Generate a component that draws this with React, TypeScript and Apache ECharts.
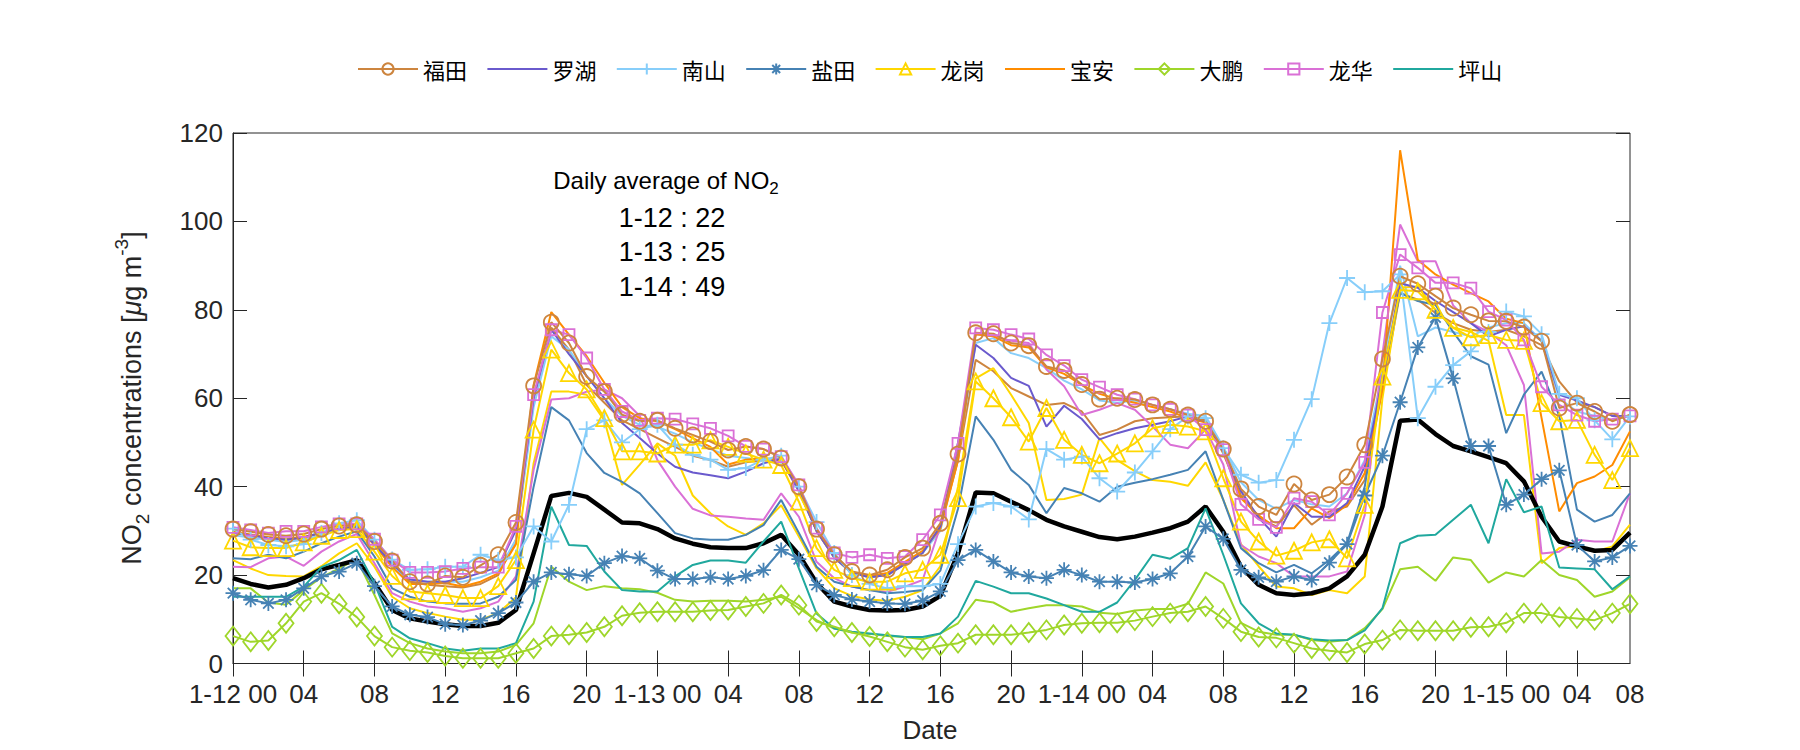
import React, { useEffect, useRef } from "react";
import * as echarts from "echarts";

// ---------- axis categories & tick labels ----------
const days = ["1-12", "1-13", "1-14", "1-15"];
const times: string[] = Array.from(
  { length: 80 },
  (_, h) => `${days[Math.floor(h / 24)]} ${String(h % 24).padStart(2, "0")}:00`
);
const xTickIdx = [0, 4, 8, 12, 16, 20, 24, 28, 32, 36, 40, 44, 48, 52, 56, 60, 64, 68, 72, 76, 79];
const xTickLabels = [
  "1-12 00", "04", "08", "12", "16", "20",
  "1-13 00", "04", "08", "12", "16", "20",
  "1-14 00", "04", "08", "12", "16", "20",
  "1-15 00", "04", "08",
];
const yMin = 0;
const yMax = 120;
const yStep = 20;

// ---------- legend names ----------
const districts = ["福田", "罗湖", "南山", "盐田", "龙岗", "宝安", "大鹏", "龙华", "坪山"];

// ---------- series values (µg m-3), hourly 1-12 00 .. 1-15 07 ----------
const futian = [
  30.4, 29.8, 29.2, 28.9, 29.3, 30.4, 31.1, 31.4, 27.6, 23.2,
  18.5, 18.0, 19.8, 19.5, 22.2, 24.6, 31.9, 62.8, 77.2, 72.5,
  64.9, 61.5, 56.3, 54.8, 55.0, 53.2, 51.7, 50.2, 48.3, 49.1,
  48.5, 46.5, 40.0, 30.4, 24.6, 20.8, 20.0, 21.2, 24.0, 26.1,
  31.7, 47.4, 74.8, 74.6, 72.5, 71.9, 67.2, 66.3, 63.1, 59.8,
  60.0, 59.7, 58.5, 57.5, 56.2, 54.8, 48.5, 39.5, 35.5, 33.6,
  40.6, 37.0, 38.2, 42.2, 49.5, 68.9, 87.6, 85.9, 83.1, 80.4,
  78.9, 77.5, 77.4, 76.1, 72.9, 57.8, 58.9, 57.0, 54.8, 56.3,
];
const luohu = [
  29.6, 29.0, 28.4, 28.0, 28.5, 29.6, 30.5, 31.0, 27.0, 22.5,
  19.0, 18.5, 18.5, 19.3, 20.5, 21.8, 30.2, 60.0, 75.5, 70.0,
  65.0, 60.0, 54.4, 51.0, 47.5, 44.5, 43.2, 42.6, 41.9, 43.4,
  45.3, 46.3, 39.0, 30.0, 24.0, 20.5, 19.5, 20.0, 22.5, 25.0,
  31.0, 50.0, 72.1, 69.1, 64.6, 62.8, 53.6, 58.3, 55.3, 50.7,
  52.1, 53.2, 54.0, 54.8, 55.9, 54.8, 48.0, 39.0, 33.0, 28.7,
  36.3, 33.2, 33.2, 36.3, 44.6, 64.0, 86.0, 85.0, 82.0, 79.5,
  77.0, 74.0, 75.5, 76.3, 73.0, 60.8, 59.5, 58.0, 56.0, 56.0,
];
const nanshan = [
  30.5, 28.0, 26.8, 26.5, 27.0, 29.5, 31.7, 32.4, 28.0, 23.5,
  21.2, 21.3, 21.9, 21.9, 24.6, 23.4, 24.0, 31.0, 27.6, 35.9,
  53.0, 55.0, 50.0, 53.0, 54.0, 49.5, 47.2, 46.1, 43.8, 44.2,
  46.1, 47.0, 40.0, 32.0, 25.0, 20.0, 18.0, 17.0, 17.5, 17.5,
  18.0, 27.0, 35.5, 36.3, 35.5, 32.6, 48.5, 46.1, 46.8, 41.9,
  38.9, 43.2, 48.0, 53.0, 55.9, 55.5, 48.7, 42.7, 40.9, 41.5,
  50.6, 59.8, 77.0, 87.2, 84.0, 84.2, 88.0, 55.5, 62.6, 67.5,
  70.6, 75.0, 79.6, 78.5, 74.5, 61.0, 60.0, 55.0, 50.7, 55.9,
];
const yantian = [
  15.9, 14.4, 13.6, 14.4, 17.0, 19.7, 20.8, 22.7, 17.5, 12.9,
  11.0, 10.5, 8.9, 8.7, 9.7, 11.4, 13.8, 18.5, 20.6, 20.2,
  19.8, 22.7, 24.3, 23.8, 21.0, 19.1, 19.1, 19.5, 19.1, 19.8,
  21.1, 25.7, 23.6, 17.8, 15.5, 14.5, 14.0, 13.6, 13.5, 14.2,
  16.3, 23.4, 25.7, 23.1, 20.6, 19.7, 19.3, 21.2, 20.0, 18.5,
  18.5, 18.3, 19.1, 20.4, 24.2, 31.0, 28.2, 21.2, 19.5, 18.5,
  19.7, 18.9, 22.8, 27.0, 38.0, 47.0, 59.1, 71.5, 78.3, 64.5,
  49.2, 49.2, 35.9, 38.2, 41.7, 43.7, 26.8, 23.1, 24.0, 26.6,
];
const longgang = [
  27.8, 26.3, 26.1, 26.1, 27.4, 28.9, 30.2, 30.4, 25.3, 19.8,
  16.3, 15.9, 15.5, 14.8, 14.8, 17.5, 23.4, 52.9, 71.0, 65.7,
  62.0, 55.5, 48.0, 48.0, 47.5, 49.5, 49.5, 50.5, 49.0, 47.5,
  46.1, 44.9, 36.6, 26.1, 21.2, 19.3, 18.5, 18.5, 20.4, 21.2,
  24.6, 37.4, 63.8, 60.0, 55.7, 50.2, 57.8, 50.6, 47.2, 45.3,
  47.5, 49.8, 53.2, 54.0, 53.6, 52.5, 41.9, 32.1, 27.6, 24.4,
  25.5, 27.4, 28.1, 23.8, 35.9, 64.9, 84.5, 84.2, 80.0, 75.9,
  73.8, 74.3, 73.2, 73.0, 58.9, 54.8, 55.1, 47.2, 41.5, 48.7,
];
const baoan = [
  29.8, 29.2, 28.6, 28.2, 28.6, 29.6, 30.6, 31.0, 26.8, 21.8,
  18.0, 18.0, 18.2, 17.4, 18.5, 20.4, 27.0, 63.0, 79.5, 74.4,
  69.5, 63.5, 58.0, 55.5, 54.8, 53.0, 51.0, 49.0, 45.0, 46.1,
  46.5, 46.0, 39.5, 30.0, 24.0, 20.5, 19.8, 20.5, 23.0, 25.5,
  30.5, 46.0, 74.5, 74.0, 72.0, 71.5, 67.0, 65.5, 63.0, 61.0,
  59.8, 59.0, 58.0, 57.0, 55.5, 54.5, 48.0, 37.4, 33.5, 30.6,
  30.6, 35.1, 32.9, 35.9, 43.1, 62.0, 116.1, 91.3, 88.0, 85.7,
  83.8, 81.9, 78.0, 77.0, 55.5, 34.4, 40.8, 42.3, 44.9, 52.5,
];
const dapeng = [
  6.2, 4.9, 5.2, 9.1, 14.0, 15.9, 13.5, 10.5, 6.2, 3.7,
  2.9, 2.5, 1.7, 1.2, 1.2, 1.2, 2.3, 3.4, 6.2, 6.5,
  7.0, 8.3, 10.8, 11.5, 11.7, 11.7, 11.7, 12.0, 12.1, 12.9,
  13.6, 15.5, 13.2, 9.5, 8.3, 7.0, 6.1, 4.9, 3.7, 3.1,
  4.0, 4.6, 6.5, 6.5, 6.5, 7.0, 7.6, 8.7, 9.1, 9.2,
  9.2, 9.7, 10.6, 11.4, 11.7, 12.9, 10.2, 7.2, 6.0, 5.8,
  4.6, 3.4, 2.9, 2.5, 4.4, 5.3, 7.6, 7.4, 7.4, 7.4,
  8.2, 8.3, 9.2, 11.4, 11.4, 10.5, 10.2, 9.8, 11.4, 13.5,
];
const longhua = [
  30.8, 30.2, 29.5, 29.9, 29.9, 30.9, 31.6, 31.6, 28.1, 23.4,
  20.6, 20.6, 20.8, 21.5, 21.8, 21.8, 31.0, 60.8, 75.5, 74.4,
  69.1, 62.0, 57.0, 55.0, 55.5, 55.3, 54.2, 53.2, 51.5, 49.1,
  48.5, 46.8, 40.4, 30.6, 25.0, 24.0, 24.6, 23.8, 24.2, 28.0,
  33.6, 49.8, 75.9, 75.5, 74.4, 73.4, 69.8, 67.4, 64.2, 62.5,
  60.8, 59.8, 58.5, 57.5, 56.2, 52.9, 48.4, 36.0, 32.6, 30.8,
  37.4, 36.6, 33.6, 38.5, 45.5, 79.4, 92.5, 89.5, 86.1, 86.1,
  84.9, 79.6, 77.7, 73.2, 62.6, 58.5, 56.2, 54.8, 55.3, 56.0,
];
const pingshan = [
  15.1, 15.1, 15.1, 15.1, 17.4, 21.8, 23.4, 25.7, 18.1, 8.3,
  5.7, 4.6, 3.4, 2.9, 3.4, 3.4, 4.6, 14.0, 35.5, 26.8,
  26.6, 20.8, 16.6, 16.3, 16.3, 19.7, 22.3, 23.3, 23.3, 22.8,
  27.6, 32.1, 21.5, 11.3, 7.9, 7.2, 6.8, 6.4, 6.0, 6.0,
  6.8, 10.6, 18.7, 17.4, 15.9, 15.9, 14.7, 13.2, 11.7, 11.7,
  13.8, 18.9, 24.6, 23.7, 26.1, 35.1, 24.6, 13.6, 9.1, 6.8,
  6.5, 5.5, 5.2, 5.3, 7.5, 12.5, 27.2, 28.9, 29.1, 32.5,
  35.9, 27.2, 41.7, 34.2, 35.5, 21.7, 21.5, 21.3, 16.8, 19.7,
];
// second stations (no markers, not in legend)
const futian2 = [
  29.5, 29.0, 28.5, 28.0, 28.5, 29.5, 30.5, 30.8, 27.0, 22.5,
  18.5, 17.8, 17.5, 17.2, 18.0, 20.0, 28.0, 60.0, 76.0, 71.0,
  63.0, 59.0, 55.0, 53.0, 51.0, 49.0, 47.0, 46.0, 44.5, 45.5,
  46.0, 46.0, 39.0, 30.0, 24.0, 20.5, 19.5, 20.0, 22.5, 25.0,
  31.0, 46.0, 68.7, 66.1, 62.3, 60.4, 58.5, 58.9, 57.0, 51.7,
  52.9, 54.8, 55.5, 55.7, 55.9, 55.1, 47.5, 38.0, 33.0, 31.0,
  35.8, 31.4, 34.4, 35.5, 41.5, 62.0, 83.8, 82.3, 79.3, 77.0,
  75.5, 75.0, 75.5, 74.0, 72.0, 63.8, 59.0, 58.0, 56.0, 56.0,
];
const nanshan2 = [
  29.0, 28.5, 28.0, 27.5, 28.0, 29.0, 30.5, 31.0, 27.0, 22.0,
  19.0, 18.5, 18.5, 18.5, 19.5, 21.0, 28.0, 58.0, 74.0, 71.0,
  65.0, 60.0, 56.0, 54.0, 53.5, 52.0, 50.0, 48.5, 47.0, 46.5,
  46.0, 46.5, 39.5, 30.0, 24.0, 20.5, 19.5, 20.0, 22.5, 25.0,
  30.0, 47.0, 72.5, 73.6, 70.2, 69.1, 66.8, 64.0, 62.0, 59.5,
  59.0, 59.5, 58.5, 57.5, 56.5, 56.0, 49.0, 41.0, 37.0, 35.0,
  37.0, 36.0, 35.5, 38.5, 46.0, 66.0, 90.0, 74.0, 76.0, 75.0,
  74.0, 76.0, 77.0, 77.0, 73.0, 60.0, 57.0, 56.0, 55.0, 56.0,
];
const longgang2 = [
  23.4, 21.5, 20.0, 19.8, 19.7, 22.0, 24.9, 27.2, 21.9, 15.1,
  12.5, 11.4, 10.6, 9.9, 9.9, 11.4, 15.0, 45.3, 61.5, 61.5,
  60.8, 55.0, 40.4, 45.0, 49.8, 47.0, 38.0, 34.0, 31.0, 29.1,
  31.7, 35.8, 28.7, 21.5, 17.0, 15.3, 14.5, 14.2, 15.1, 16.6,
  22.0, 40.0, 64.5, 66.8, 60.8, 54.4, 37.0, 37.2, 38.2, 51.0,
  46.0, 43.5, 41.5, 41.1, 40.2, 45.5, 37.0, 27.0, 22.0, 17.4,
  17.0, 15.5, 16.6, 15.9, 19.7, 60.0, 85.0, 85.3, 80.0, 76.0,
  75.0, 73.0, 56.2, 56.2, 22.7, 26.1, 26.5, 25.3, 26.5, 31.4,
];
const longhua2 = [
  21.9, 21.8, 23.8, 24.2, 22.1, 25.3, 27.6, 29.3, 22.7, 15.9,
  14.0, 12.9, 12.5, 11.7, 12.5, 14.0, 19.7, 43.8, 59.7, 60.0,
  61.5, 62.0, 60.0, 56.0, 46.0, 40.0, 35.0, 33.5, 33.2, 32.8,
  32.5, 38.5, 33.2, 23.0, 19.3, 17.4, 16.6, 16.2, 17.4, 18.9,
  31.0, 48.0, 74.5, 74.0, 73.0, 72.5, 66.5, 62.7, 56.2, 57.4,
  58.9, 57.4, 53.6, 49.5, 48.7, 52.9, 45.0, 26.8, 24.2, 22.7,
  19.7, 19.7, 19.7, 20.8, 33.6, 70.0, 99.3, 91.0, 91.0, 81.0,
  77.0, 75.0, 72.0, 63.0, 24.9, 25.3, 28.0, 27.6, 27.6, 38.5,
];
const yantian2 = [
  23.8, 23.6, 24.6, 23.8, 25.3, 27.2, 28.7, 29.9, 24.2, 17.0,
  15.1, 14.0, 13.6, 13.5, 13.6, 15.1, 18.9, 40.0, 58.0, 55.0,
  47.6, 43.1, 41.1, 38.5, 34.0, 29.5, 28.3, 28.0, 28.0, 29.1,
  31.3, 37.0, 29.5, 21.9, 18.5, 17.4, 16.6, 15.9, 16.2, 16.6,
  21.0, 35.0, 55.9, 50.6, 43.8, 40.4, 34.0, 39.7, 38.5, 36.6,
  40.0, 40.9, 41.7, 42.7, 43.8, 48.0, 37.0, 26.1, 22.7, 20.6,
  22.3, 20.4, 23.4, 27.2, 40.0, 65.0, 83.8, 82.0, 81.1, 75.0,
  69.5, 67.6, 52.1, 60.8, 66.0, 56.0, 34.8, 32.1, 33.6, 38.5,
];
const dapeng2 = [
  17.0, 17.0, 13.8, 13.3, 16.6, 19.5, 21.5, 23.6, 15.5, 6.8,
  4.6, 3.4, 2.7, 2.3, 2.3, 2.7, 4.2, 9.1, 21.9, 18.5,
  16.6, 17.5, 17.0, 16.8, 16.0, 14.4, 14.0, 14.2, 14.2, 14.0,
  14.4, 15.1, 12.5, 9.8, 7.9, 7.0, 6.7, 6.2, 6.0, 5.5,
  6.8, 9.1, 14.4, 13.8, 11.7, 12.5, 13.2, 13.2, 12.9, 11.5,
  11.2, 12.0, 12.3, 12.3, 13.5, 20.6, 18.1, 9.2, 7.2, 6.5,
  6.5, 5.3, 4.9, 5.3, 8.0, 12.3, 21.3, 21.9, 18.7, 24.0,
  23.4, 18.3, 20.6, 19.7, 23.4, 20.0, 18.9, 15.1, 16.3, 19.5,
];
// city-wide mean (thick black line)
const average = [
  19.3, 18.0, 17.2, 17.8, 19.3, 21.3, 22.3, 23.4, 18.2, 12.1,
  10.2, 9.5, 8.9, 8.5, 8.5, 9.2, 12.1, 24.9, 37.9, 38.6,
  37.7, 34.8, 31.9, 31.7, 30.4, 28.3, 27.1, 26.3, 26.1, 26.1,
  27.2, 29.1, 24.6, 18.2, 14.0, 12.9, 12.1, 12.0, 12.1, 12.9,
  15.3, 24.9, 38.7, 38.5, 36.6, 34.7, 32.5, 31.0, 29.8, 28.6,
  28.1, 28.7, 29.6, 30.6, 32.1, 35.5, 29.8, 21.9, 17.8, 15.9,
  15.5, 15.9, 17.0, 19.7, 24.6, 35.5, 54.9, 55.2, 51.9, 49.2,
  48.0, 46.7, 45.3, 41.2, 33.2, 27.6, 26.5, 25.5, 25.7, 29.6,
];
const dailyAvgLabels = ["1-12 : 22", "1-13 : 25", "1-14 : 49"];

// ---------- styling ----------
const FONT = "'Liberation Sans', Arial, sans-serif";
const CJK = "'Noto Sans CJK SC', sans-serif";
const AX = "#262626";
const CLEAR = "rgba(255,255,255,0)";
const COLORS: Record<string, string> = {
  福田: "#cd853f",
  罗湖: "#6a5acd",
  南山: "#87cefa",
  盐田: "#4682b4",
  龙岗: "#ffd700",
  宝安: "#ff8c00",
  大鹏: "#9fd62a",
  龙华: "#da70d6",
  坪山: "#20a89e",
};
const PLUS = "path://M0,-10L0,10M-10,0L10,0";
const STAR = "path://M0,-10L0,10M-10,0L10,0M-7,-7L7,7M-7,7L7,-7";

function lineSeries(name: string, data: number[], color: string, symbol?: string, size?: number | number[]) {
  return {
    name,
    type: "line",
    data,
    xAxisIndex: 0,
    yAxisIndex: 0,
    smooth: false,
    symbol: symbol || "none",
    showSymbol: !!symbol,
    showAllSymbol: true,
    symbolSize: size || 0,
    lineStyle: { color, width: 2 },
    itemStyle: symbol
      ? { color: CLEAR, borderColor: color, borderWidth: 1.8 }
      : { color: CLEAR, borderColor: CLEAR, borderWidth: 0 },
    emphasis: { disabled: true },
  };
}

export default function App() {
  const ref = useRef<HTMLDivElement>(null);
  useEffect(() => {
    if (!ref.current) return;
    document.body.style.margin = "0";
    const chart = echarts.init(ref.current, undefined, { renderer: "svg" });
    const labelMap = new Map<string, string>();
    xTickIdx.forEach((idx, k) => labelMap.set(times[idx], xTickLabels[k]));

    const series: any[] = [
      lineSeries("福田-2", futian2, COLORS["福田"]),
      lineSeries("南山-2", nanshan2, COLORS["南山"]),
      lineSeries("龙岗-2", longgang2, COLORS["龙岗"]),
      lineSeries("龙华-2", longhua2, COLORS["龙华"]),
      lineSeries("盐田-2", yantian2, COLORS["盐田"]),
      lineSeries("大鹏-2", dapeng2, COLORS["大鹏"]),
      {
        name: "平均",
        type: "line",
        data: average,
        symbol: "none",
        showSymbol: false,
        lineStyle: { color: "#000000", width: 4.5 },
        itemStyle: { color: "#000000" },
        emphasis: { disabled: true },
      },
      lineSeries("坪山", pingshan, COLORS["坪山"]),
      lineSeries("大鹏", dapeng, COLORS["大鹏"], "diamond", [15, 19]),
      lineSeries("宝安", baoan, COLORS["宝安"]),
      lineSeries("罗湖", luohu, COLORS["罗湖"]),
      lineSeries("南山", nanshan, COLORS["南山"], PLUS, 16),
      lineSeries("盐田", yantian, COLORS["盐田"], STAR, 15),
      lineSeries("龙岗", longgang, COLORS["龙岗"], "triangle", 16),
      lineSeries("龙华", longhua, COLORS["龙华"], "rect", 11),
      lineSeries("福田", futian, COLORS["福田"], "circle", 15),
    ];

    chart.setOption({
      animation: false,
      backgroundColor: "#ffffff",
      textStyle: { fontFamily: FONT },
      grid: {
        left: 233,
        right: 170,
        top: 133,
        bottom: 86.5,
        show: true,
        borderColor: AX,
        borderWidth: 1,
        backgroundColor: "#ffffff",
      },
      legend: {
        data: districts,
        left: 352,
        top: 53,
        itemWidth: 60,
        itemHeight: 14,
        itemGap: 19.4,
        textStyle: { fontFamily: CJK, fontSize: 22, color: "#000" },
        selectedMode: false,
      },
      xAxis: [
        {
          type: "category",
          data: times,
          boundaryGap: false,
          axisLine: { show: true, lineStyle: { color: AX, width: 1 } },
          axisTick: {
            show: true,
            inside: true,
            length: 13,
            interval: (i: number) => i % 4 === 0,
            lineStyle: { color: AX },
          },
          axisLabel: {
            interval: (i: number) => xTickIdx.includes(i),
            formatter: (v: string) => labelMap.get(v) ?? "",
            fontSize: 26,
            fontFamily: FONT,
            color: AX,
            margin: 17,
          },
          splitLine: { show: false },
        },
        {
          type: "category",
          data: times,
          boundaryGap: false,
          position: "top",
          axisLine: { show: false },
          axisTick: {
            show: true,
            inside: true,
            length: 13,
            interval: (i: number) => i % 4 === 0,
            lineStyle: { color: AX },
          },
          axisLabel: { show: false },
          splitLine: { show: false },
        },
      ],
      yAxis: [
        {
          type: "value",
          min: yMin,
          max: yMax,
          interval: yStep,
          axisLine: { show: true, lineStyle: { color: AX } },
          axisTick: { show: true, inside: true, length: 14, lineStyle: { color: AX } },
          axisLabel: { fontSize: 26, fontFamily: FONT, color: AX, margin: 10 },
          splitLine: { show: false },
        },
        {
          type: "value",
          min: yMin,
          max: yMax,
          interval: yStep,
          position: "right",
          axisLine: { show: false },
          axisTick: { show: true, inside: true, length: 14, lineStyle: { color: AX } },
          axisLabel: { show: false },
          splitLine: { show: false },
        },
      ],
      graphic: [
        {
          type: "text",
          x: 132,
          y: 398,
          rotation: Math.PI / 2,
          style: {
            text: "{a|NO}{sub|2}{a| concentrations [}{mu|μ}{a|g m}{sup|-3}{a|]}",
            align: "center",
            verticalAlign: "middle",
            fill: AX,
            rich: {
              a: { fontSize: 27, fontFamily: FONT, lineHeight: 40, fill: AX },
              mu: { fontSize: 27, fontFamily: FONT, fontStyle: "italic", lineHeight: 40, fill: AX },
              sub: { fontSize: 19, fontFamily: FONT, lineHeight: 19, verticalAlign: "bottom", fill: AX },
              sup: { fontSize: 19, fontFamily: FONT, lineHeight: 19, verticalAlign: "top", fill: AX },
            },
          },
        },
        {
          type: "text",
          x: 930,
          y: 730,
          style: {
            text: "Date",
            align: "center",
            verticalAlign: "middle",
            fontSize: 26,
            fontFamily: FONT,
            fill: AX,
          },
        },
        {
          type: "text",
          x: 666,
          y: 180,
          style: {
            text: "{a|Daily average of NO}{sub|2}",
            align: "center",
            verticalAlign: "middle",
            fill: "#000",
            rich: {
              a: { fontSize: 24, fontFamily: FONT, lineHeight: 34, fill: "#000" },
              sub: { fontSize: 17, fontFamily: FONT, lineHeight: 17, verticalAlign: "bottom", fill: "#000" },
            },
          },
        },
        ...dailyAvgLabels.map((t, k) => ({
          type: "text",
          x: 672,
          y: 218 + k * 34.4,
          style: {
            text: t,
            align: "center",
            verticalAlign: "middle",
            fontSize: 27,
            fontFamily: FONT,
            fill: "#000",
          },
        })),
      ],
      series,
    });
    return () => chart.dispose();
  }, []);
  return <div ref={ref} style={{ width: 1800, height: 750 }} />;
}
